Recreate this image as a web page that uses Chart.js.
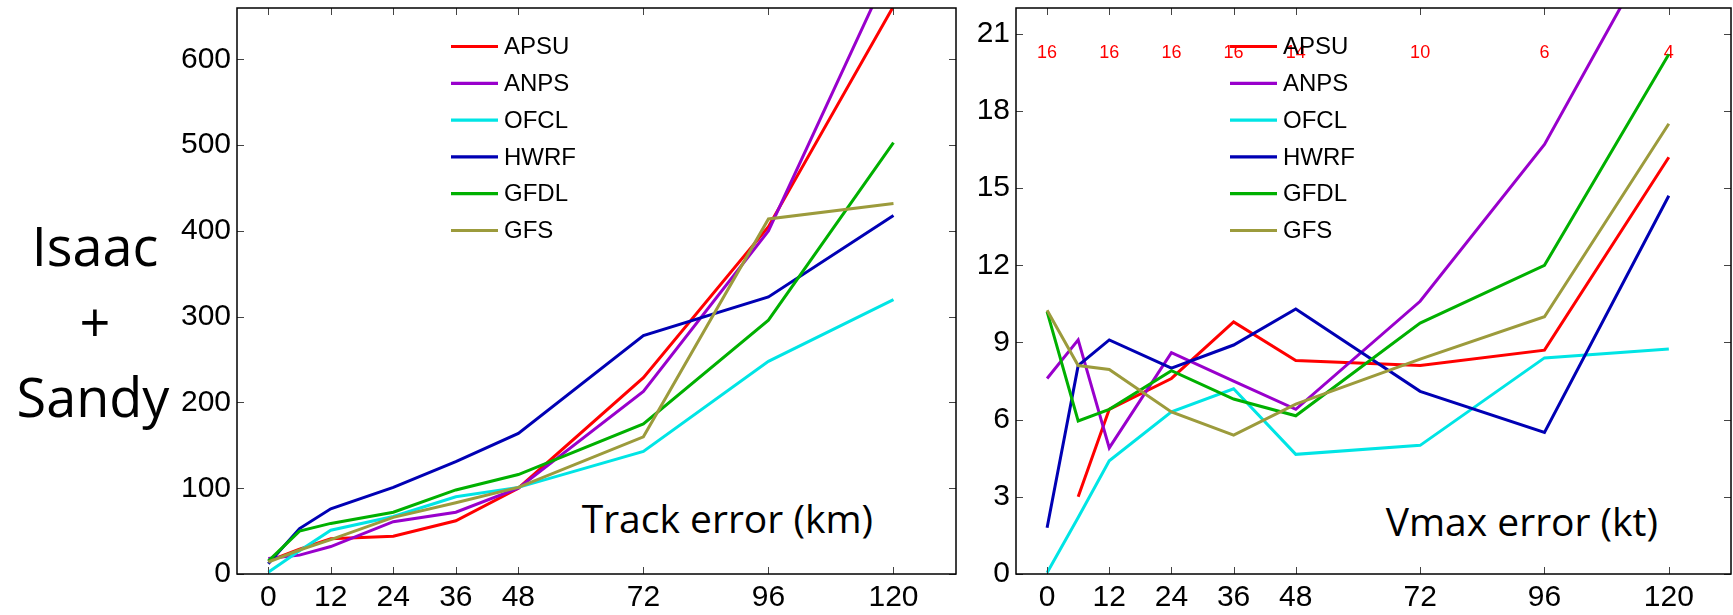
<!DOCTYPE html>
<html>
<head>
<meta charset="utf-8">
<script src="https://cdn.jsdelivr.net/npm/chart.js@4.4.1/dist/chart.umd.min.js"></script>
<style>
  html, body { margin: 0; padding: 0; background: #fff; }
  body { width: 1733px; height: 615px; position: relative; overflow: hidden; }
  canvas { position: absolute; top: 0; }
  .big { position: absolute; font-family: 'Open Sans', sans-serif; color: #000; line-height: 1; white-space: nowrap; }
</style>
</head>
<body>
<div class="big" style="left:15px;width:160px;text-align:center;top:218px;font-size:54px">Isaac</div>
<div class="big" style="left:15px;width:160px;text-align:center;top:294px;font-size:54px">+</div>
<div class="big" style="left:13px;width:160px;text-align:center;top:369px;font-size:54px">Sandy</div>
<div class="big" style="left:480px;width:393px;text-align:right;top:498px;font-size:39px">Track error (km)</div>
<div class="big" style="left:1260px;width:398px;text-align:right;top:501px;font-size:39px">Vmax error (kt)</div>

<canvas id="chart-track" width="830" height="615" style="left:150px"></canvas>
<canvas id="chart-vmax" width="773" height="615" style="left:960px"></canvas>

<script>
(function () {
    'use strict';

    // forecast lead times (h)
    const hours = [0, 6, 12, 24, 36, 48, 72, 96, 120];
    const tickHours = [0, 12, 24, 36, 48, 72, 96, 120];

    const models = ['APSU', 'ANPS', 'OFCL', 'HWRF', 'GFDL', 'GFS'];
    const colors = ['#ff0000', '#9900cc', '#00e5e5', '#0000b4', '#00b000', '#9c9b3c'];

    // Track error (km)
    const trackAPSU = [15, 29, 41, 44, 62, 100, 229, 405, 662];
    const trackANPS = [18, 22, 32, 61, 72, 100, 213, 400, 715];
    const trackOFCL = [2, 27, 51, 67, 90, 101, 143, 248, 320];
    const trackHWRF = [12, 53, 76, 101, 131, 164, 278, 323, 418];
    const trackGFDL = [15, 50, 59, 72, 98, 116, 175, 296, 503];
    const trackGFS  = [14, 28, 40, 66, 83, 101, 160, 414, 432];
    const trackTicks = [0, 100, 200, 300, 400, 500, 600];

    // Vmax error (kt)
    const vmaxAPSU = [null, 3.0, 6.4, 7.6, 9.8, 8.3, 8.1, 8.7, 16.2];
    const vmaxANPS = [7.6, 9.1, 4.9, 8.6, 7.5, 6.4, 10.6, 16.7, 25.4];
    const vmaxOFCL = [0.05, 2.2, 4.4, 6.3, 7.2, 4.65, 5.0, 8.4, 8.75];
    const vmaxHWRF = [1.8, 8.1, 9.1, 8.0, 8.9, 10.3, 7.1, 5.5, 14.7];
    const vmaxGFDL = [10.2, 5.95, 6.4, 7.9, 6.8, 6.15, 9.75, 12.0, 20.2];
    const vmaxGFS  = [10.25, 8.1, 7.95, 6.3, 5.4, 6.6, 8.35, 10.0, 17.5];
    const vmaxTicks = [0, 3, 6, 9, 12, 15, 18, 21];

    // number of cases per lead time (red labels)
    const caseCounts = [16, 16, 16, 16, 14, 10, 6, 4];

    const TICK_FONT = { family: "'Liberation Sans', Arial, sans-serif", size: 30 };

    function makeDatasets(series) {
        return series.map((vals, i) => ({
            label: models[i],
            data: hours.map((h, j) => ({ x: h, y: vals[j] })),
            borderColor: colors[i],
            backgroundColor: colors[i],
            borderWidth: 3,
            pointRadius: 0,
            tension: 0,
            spanGaps: false,
            clip: 0,
            order: models.length - 1 - i,
        }));
    }

    // box + inward ticks on all four sides (MATLAB style)
    const framePlugin = {
        id: 'frame',
        afterDatasetsDraw(chart) {
            const { ctx, chartArea: a, scales: { x, y } } = chart;
            ctx.save();
            ctx.strokeStyle = '#444';
            ctx.lineWidth = 1;
            ctx.beginPath();
            x.ticks.forEach(t => {
                const px = Math.round(x.getPixelForValue(t.value)) + 0.5;
                ctx.moveTo(px, a.bottom); ctx.lineTo(px, a.bottom - 7);
                ctx.moveTo(px, a.top); ctx.lineTo(px, a.top + 7);
            });
            y.ticks.forEach(t => {
                const py = Math.round(y.getPixelForValue(t.value)) + 0.5;
                ctx.moveTo(a.left, py); ctx.lineTo(a.left + 7, py);
                ctx.moveTo(a.right, py); ctx.lineTo(a.right - 7, py);
            });
            ctx.stroke();
            ctx.strokeStyle = '#000';
            ctx.lineWidth = 1.5;
            ctx.strokeRect(a.left, a.top, a.width, a.height);
            ctx.restore();
        },
    };

    // legend drawn inside the plot area
    const legendPlugin = {
        id: 'boxLegend',
        afterDraw(chart) {
            const { ctx, chartArea: a } = chart;
            const x0 = a.left + 214;
            ctx.save();
            ctx.font = "24px 'Liberation Sans', Arial, sans-serif";
            ctx.textBaseline = 'middle';
            ctx.textAlign = 'left';
            chart.data.datasets.forEach((ds, i) => {
                const yy = a.top + 38.5 + i * 36.8;
                ctx.strokeStyle = ds.borderColor;
                ctx.lineWidth = 3.2;
                ctx.beginPath();
                ctx.moveTo(x0, yy);
                ctx.lineTo(x0 + 47, yy);
                ctx.stroke();
                ctx.fillStyle = '#000';
                ctx.fillText(ds.label, x0 + 53, yy + 1);
            });
            ctx.restore();
        },
    };

    // red case counts above the curves
    const countsPlugin = {
        id: 'caseCounts',
        beforeDatasetsDraw(chart) {
            const { ctx, scales: { x, y } } = chart;
            ctx.save();
            ctx.font = "18px 'Liberation Sans', Arial, sans-serif";
            ctx.fillStyle = '#ff0000';
            ctx.textAlign = 'center';
            ctx.textBaseline = 'middle';
            tickHours.forEach((h, i) => {
                ctx.fillText(String(caseCounts[i]), x.getPixelForValue(h), y.getPixelForValue(20.25));
            });
            ctx.restore();
        },
    };

    function makeChart(canvas, series, yMax, yTicks, yAxisWidth, padRight, extraPlugins) {
        return new Chart(canvas, {
            type: 'line',
            data: { datasets: makeDatasets(series) },
            options: {
                responsive: false,
                animation: false,
                events: [],
                layout: { padding: { left: 0, right: padRight, top: 8, bottom: 0 } },
                plugins: { legend: { display: false }, tooltip: { enabled: false } },
                scales: {
                    x: {
                        type: 'linear',
                        min: -6,
                        max: 132,
                        grid: { display: false, drawTicks: false },
                        border: { display: false },
                        ticks: { font: TICK_FONT, color: '#000', padding: 6, autoSkip: false, maxRotation: 0 },
                        afterBuildTicks: s => { s.ticks = tickHours.map(v => ({ value: v })); },
                        afterFit: s => { s.height = 41; s.paddingLeft = 0; s.paddingRight = 0; },
                    },
                    y: {
                        type: 'linear',
                        min: 0,
                        max: yMax,
                        grid: { display: false, drawTicks: false },
                        border: { display: false },
                        ticks: { font: TICK_FONT, color: '#000', padding: 6 },
                        afterBuildTicks: s => { s.ticks = yTicks.map(v => ({ value: v })); },
                        afterFit: s => { s.width = yAxisWidth; s.paddingTop = 0; s.paddingBottom = 0; },
                    },
                },
            },
            plugins: [framePlugin, legendPlugin].concat(extraPlugins),
        });
    }

    makeChart(document.getElementById('chart-track'),
        [trackAPSU, trackANPS, trackOFCL, trackHWRF, trackGFDL, trackGFS],
        660, trackTicks, 87, 24, []);

    makeChart(document.getElementById('chart-vmax'),
        [vmaxAPSU, vmaxANPS, vmaxOFCL, vmaxHWRF, vmaxGFDL, vmaxGFS],
        22, vmaxTicks, 56, 2, [countsPlugin]);
})();
</script>
</body>
</html>
